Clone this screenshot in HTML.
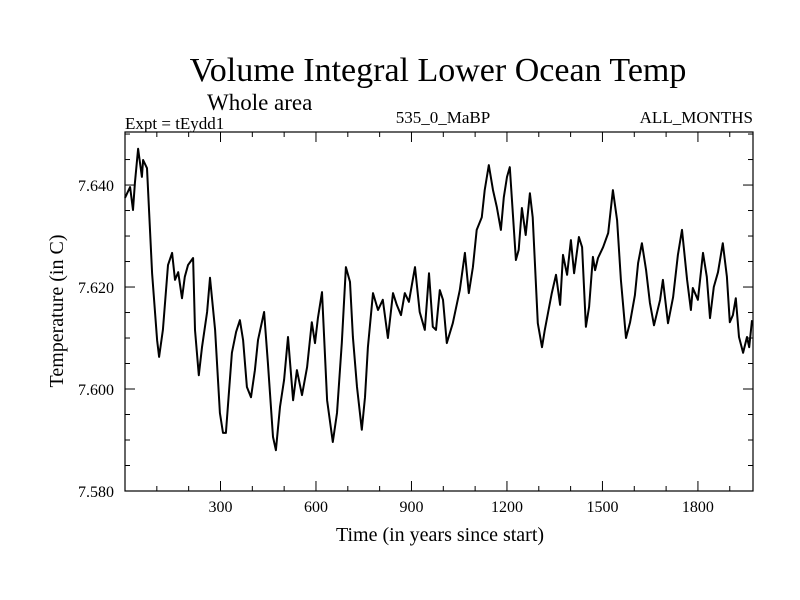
<!DOCTYPE html>
<html><head><meta charset="utf-8"><style>
html,body{margin:0;padding:0;background:#fff;width:800px;height:600px;overflow:hidden}
svg text{font-family:"Liberation Serif",serif;fill:#000}
</style></head><body>
<svg id="chart" width="800" height="600" xmlns="http://www.w3.org/2000/svg">
<text x="438" y="81" font-size="34" text-anchor="middle">Volume Integral Lower Ocean Temp</text>
<text x="207" y="110" font-size="23">Whole area</text>
<text x="125" y="129" font-size="17">Expt = tEydd1</text>
<text x="443" y="123" font-size="17" text-anchor="middle">535_0_MaBP</text>
<text x="753" y="123" font-size="17" text-anchor="end">ALL_MONTHS</text>
<text transform="translate(63,311) rotate(-90)" font-size="20" text-anchor="middle">Temperature (in C)</text>
<text x="440" y="541" font-size="20" text-anchor="middle">Time (in years since start)</text>
<g id="axes"></g>
<g id="series"></g>
<rect x="125" y="132" width="628" height="359" fill="none" stroke="#000" stroke-width="1.2"/>
</svg>
<script>
const years = [0,16,25,31,41,53,57,69,85,101,107,119,135,148,157,167,179,188,198,214,220,232,242,258,267,283,298,308,317,336,349,361,371,383,396,408,418,437,449,465,474,487,500,512,528,540,556,572,587,597,606,619,635,653,666,681,694,707,716,729,744,754,763,779,795,810,826,842,854,867,879,892,911,926,942,955,967,977,989,999,1011,1030,1052,1068,1080,1093,1105,1121,1130,1143,1156,1168,1181,1190,1200,1209,1228,1237,1247,1259,1272,1281,1297,1310,1319,1329,1341,1354,1367,1376,1389,1401,1411,1426,1436,1448,1458,1470,1477,1486,1502,1518,1533,1546,1558,1574,1587,1602,1612,1624,1637,1649,1662,1681,1690,1706,1722,1737,1750,1766,1778,1784,1800,1816,1828,1838,1850,1863,1878,1891,1900,1910,1919,1929,1942,1954,1961,1970];
const temps = [7.6375,7.6396,7.6351,7.6404,7.6471,7.6416,7.6449,7.6433,7.6227,7.6096,7.6063,7.6116,7.6243,7.6267,7.6214,7.6229,7.6178,7.6220,7.6243,7.6257,7.6116,7.6027,7.6082,7.6151,7.6218,7.6116,7.5953,7.5914,7.5914,7.6071,7.6112,7.6135,7.6096,7.6004,7.5984,7.6037,7.6096,7.6151,7.6051,7.5906,7.5880,7.5965,7.6018,7.6102,7.5978,7.6037,7.5988,7.6043,7.6131,7.6090,7.6139,7.6190,7.5978,7.5896,7.5953,7.6090,7.6239,7.6210,7.6102,7.6004,7.5920,7.5984,7.6082,7.6188,7.6155,7.6175,7.6100,7.6188,7.6165,7.6145,7.6188,7.6171,7.6239,7.6151,7.6116,7.6227,7.6122,7.6116,7.6194,7.6175,7.6090,7.6129,7.6194,7.6267,7.6188,7.6239,7.6312,7.6337,7.6390,7.6439,7.6390,7.6357,7.6312,7.6376,7.6416,7.6435,7.6253,7.6273,7.6355,7.6302,7.6384,7.6337,7.6129,7.6082,7.6116,7.6149,7.6188,7.6224,7.6165,7.6263,7.6224,7.6292,7.6227,7.6298,7.6278,7.6122,7.6161,7.6259,7.6233,7.6257,7.6278,7.6306,7.6390,7.6331,7.6214,7.6100,7.6131,7.6184,7.6247,7.6286,7.6233,7.6169,7.6125,7.6175,7.6214,7.6129,7.6180,7.6263,7.6312,7.6214,7.6155,7.6198,7.6175,7.6267,7.6220,7.6139,7.6200,7.6229,7.6286,7.6220,7.6131,7.6145,7.6178,7.6102,7.6071,7.6102,7.6082,7.6135];
const xTicks = [300,600,900,1200,1500,1800];
const xMinor = [100,200,400,500,700,800,1000,1100,1300,1400,1600,1700,1900];
const yTicks = [7.580,7.600,7.620,7.640];
const yMinor = [7.585,7.590,7.595,7.605,7.610,7.615,7.625,7.630,7.635,7.645,7.650];

const L=125,R=753,T=132,B=491,X0=0,X1=1973,Y0=7.580,Y1=7.6504;
function xs(v){return L+(v-X0)/(X1-X0)*(R-L);}
function ys(v){return B-(v-Y0)/(Y1-Y0)*(B-T);}
const NS='http://www.w3.org/2000/svg';
const axes=document.getElementById('axes');
function line(x1,y1,x2,y2,name){
  const l=document.createElementNS(NS,'line');
  l.setAttribute('x1',x1);l.setAttribute('y1',y1);l.setAttribute('x2',x2);l.setAttribute('y2',y2);
  l.setAttribute('stroke','#000');l.setAttribute('stroke-width','1');
  
  
  axes.appendChild(l);
}
function txt(x,y,s,anchor,name){
  const t=document.createElementNS(NS,'text');
  t.setAttribute('x',x);t.setAttribute('y',y);t.setAttribute('font-size','16');t.setAttribute('text-anchor',anchor);
  t.textContent=s;
  
  
  axes.appendChild(t);
}
xTicks.forEach(v=>{const x=xs(v);line(x,B,x,B-10,'x-tick');line(x,T,x,T+10,'x-tick-top');txt(x,B+21,String(v),'middle','x-tick-label');});
xMinor.forEach(v=>{const x=xs(v);line(x,B,x,B-5,'x-minor-tick');line(x,T,x,T+5,'x-minor-tick-top');});
yTicks.forEach(v=>{const y=ys(v);line(L,y,L+10,y,'y-tick');line(R,y,R-10,y,'y-tick-right');txt(L-11,y+6,v.toFixed(3),'end','y-tick-label');});
yMinor.forEach(v=>{const y=ys(v);if(y<T)return;line(L,y,L+5,y,'y-minor-tick');line(R,y,R-5,y,'y-minor-tick-right');});
let d='';
years.forEach((yr,i)=>{d+=(i?'L':'M')+xs(yr).toFixed(1)+' '+ys(temps[i]).toFixed(1);});
const p=document.createElementNS(NS,'path');
p.setAttribute('d',d);p.setAttribute('fill','none');p.setAttribute('stroke','#000');p.setAttribute('stroke-width','2');p.setAttribute('stroke-linejoin','round');


document.getElementById('series').appendChild(p);
</script>
</body></html>
